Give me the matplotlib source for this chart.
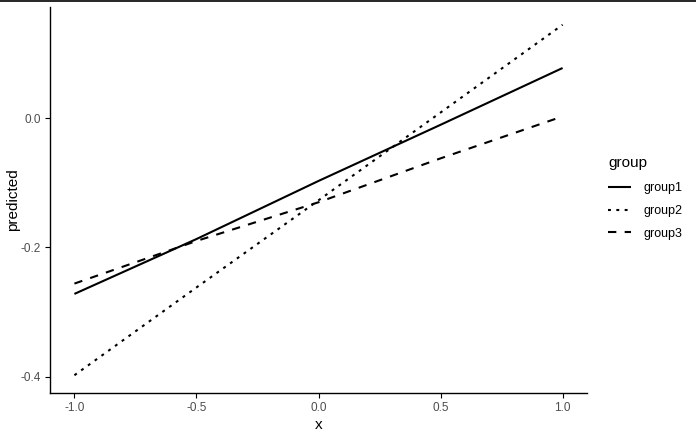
import matplotlib
matplotlib.use("Agg")
import matplotlib.pyplot as plt
from matplotlib.lines import Line2D

x = [-1.0, -0.5, 0.0, 0.5, 1.0]
group1 = [-0.272, -0.187, -0.097, -0.010, 0.078]
group2 = [-0.398, -0.262, -0.127, 0.009, 0.145]
group3 = [-0.256, -0.190, -0.130, -0.062, 0.003]
groups = ["group1", "group2", "group3"]
xticks = [-1.0, -0.5, 0.0, 0.5, 1.0]
yticks = [-0.4, -0.2, 0.0]

plt.rcParams['font.family'] = ['Liberation Sans', 'DejaVu Sans']

fig = plt.figure(figsize=(6.96, 4.37), dpi=100)
ax = fig.add_axes([50/696, 44/437, (587-50)/696, (393-7)/437])

lw = 1.5
styles = ['-', (0, (1.4, 2.6)), (0, (4, 4))]
for name, vals, ls in zip(groups, [group1, group2, group3], styles):
    ax.plot(x, vals, color='black', lw=lw, linestyle=ls, label=name,
            dash_capstyle='butt', solid_capstyle='butt')

ax.set_xlim(-1.1, 1.1)
ax.set_ylim(-0.4255, 0.1725)
ax.set_xticks(xticks)
ax.set_xticklabels([f"{v:.1f}" for v in xticks])
ax.set_yticks(yticks)
ax.set_yticklabels([f"{v:.1f}" for v in yticks])
for s in ['top', 'right']:
    ax.spines[s].set_visible(False)
for s in ['left', 'bottom']:
    ax.spines[s].set_linewidth(1.0)
ax.tick_params(axis='both', colors='black', labelcolor='#4D4D4D', labelsize=8.5,
               length=3.5, width=0.8, pad=3)
ax.set_xlabel("x", fontsize=11, labelpad=3)
ax.set_ylabel("predicted", fontsize=11, labelpad=0.5)

leg = ax.legend(title="group", loc='upper left', bbox_to_anchor=(603/696, 1 - 151/437),
                bbox_transform=fig.transFigure, frameon=False, fontsize=9,
                title_fontsize=11, handlelength=1.8, handletextpad=1.0,
                labelspacing=0.85, borderaxespad=0)
leg._legend_box.align = "left"
leg._legend_box.sep = 9

fig.add_artist(Line2D([0, 1], [0.9985, 0.9985], transform=fig.transFigure,
                      color='black', lw=1.2))

fig.savefig("out.png", dpi=100)
